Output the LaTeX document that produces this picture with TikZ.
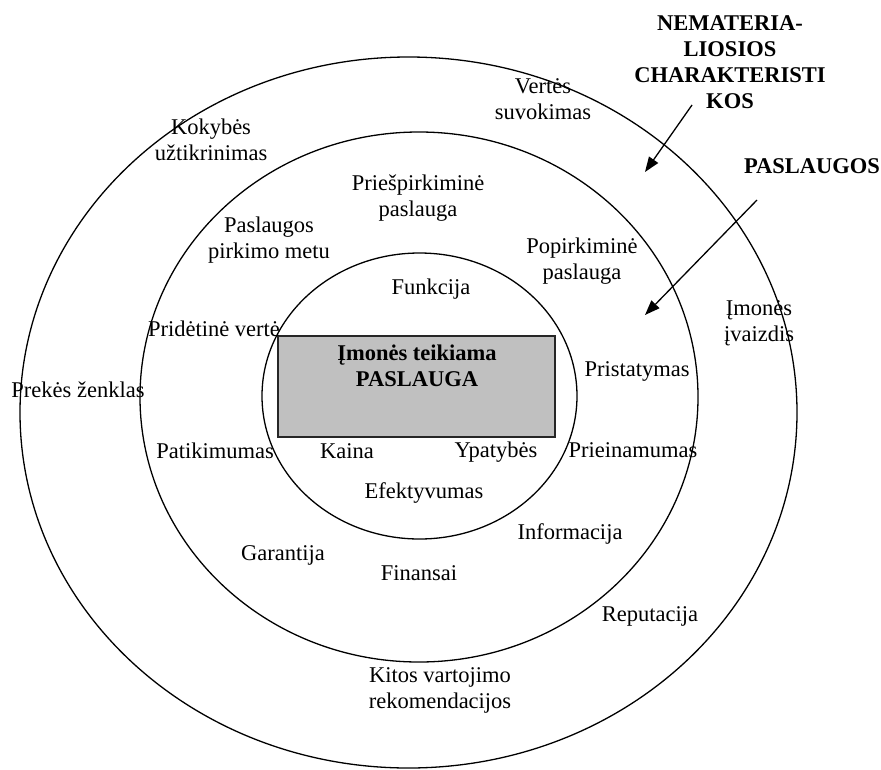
\documentclass[tikz,border=0pt]{standalone}
\usepackage{fontspec}
\setmainfont{Liberation Serif}
\usetikzlibrary{arrows.meta}
\definecolor{coregray}{HTML}{C0C0C0}
\begin{document}
\begin{tikzpicture}[x=1pt, y=-1pt,
  ring/.style={line width=1.3pt},
  lbl/.style={font=\fontsize{22.5}{26}\selectfont, inner sep=0pt, text height=15pt, text depth=5pt},
  lbls/.style={font=\fontsize{22.5}{26}\selectfont, inner sep=0pt, align=center},
  hdr/.style={font=\fontsize{22.5}{26}\selectfont\bfseries, inner sep=0pt, align=center},
  corebox/.style={draw=black!85, line width=1.6pt, fill=coregray, inner sep=0pt,
                  minimum width=277pt, minimum height=101pt},
  pointer/.style={line width=1.3pt, -{Triangle[length=15pt,width=11pt]}}
]
\useasboundingbox (0,0) rectangle (881,769);

% three nested rings
\draw[ring] (408.5,412.5) ellipse [x radius=388.5pt, y radius=355.5pt];
\draw[ring] (419,397) ellipse [x radius=279pt, y radius=265pt];
\draw[ring] (419.5,396) ellipse [x radius=157.5pt, y radius=143pt];

% core service box
\node[corebox] (core) at (416.5,386.5) {};
\node[hdr] (coretxt) at (417,366) {Įmonės teikiama\\PASLAUGA};

% outer ring labels
\node[lbls] (verte) at (543,99) {Vertės\\suvokimas};
\node[lbls] (kokybe) at (211,140) {Kokybės\\užtikrinimas};
\node[lbl] (zenklas) at (78,392) {Prekės ženklas};
\node[lbls] (ivaizdis) at (759,323) {Įmonės\\įvaizdis};
\node[lbl] (reput) at (650,616) {Reputacija};
\node[lbls] (rekom) at (440,690) {Kitos vartojimo\\rekomendacijos};

% middle ring labels
\node[lbls] (pries) at (418,198) {Priešpirkiminė\\paslauga};
\node[lbls] (pirkimo) at (269,240) {Paslaugos\\pirkimo metu};
\node[lbls] (popirk) at (582,261) {Popirkiminė\\paslauga};
\node[lbl] (prideti) at (214,331) {Pridėtinė vertė};
\node[lbl] (pristat) at (637,371) {Pristatymas};
\node[lbl] (patik) at (215,453) {Patikimumas};
\node[lbl] (priein) at (633,452) {Prieinamumas};
\node[lbl] (inform) at (570,534) {Informacija};
\node[lbl] (garant) at (283,555) {Garantija};
\node[lbl] (finans) at (419,575) {Finansai};

% inner ring labels
\node[lbl] (funkc) at (431,289) {Funkcija};
\node[lbl] (kaina) at (347,453) {Kaina};
\node[lbl] (ypat) at (496,452) {Ypatybės};
\node[lbl] (efekt) at (424,493) {Efektyvumas};

% legend headings with pointers
\node[hdr] (nemat) at (730,62) {NEMATERIA-\\LIOSIOS\\CHARAKTERISTI\\KOS};
\node[hdr, text height=15pt, text depth=5pt] (paslaugos) at (812,168) {PASLAUGOS};
\coordinate (nemfrom) at (692,105);
\coordinate (nemto) at (645,172);
\coordinate (pasfrom) at (757,200);
\coordinate (pasto) at (645,315);
\draw[pointer] (nemfrom) -- (nemto);
\draw[pointer] (pasfrom) -- (pasto);
\end{tikzpicture}
\end{document}
